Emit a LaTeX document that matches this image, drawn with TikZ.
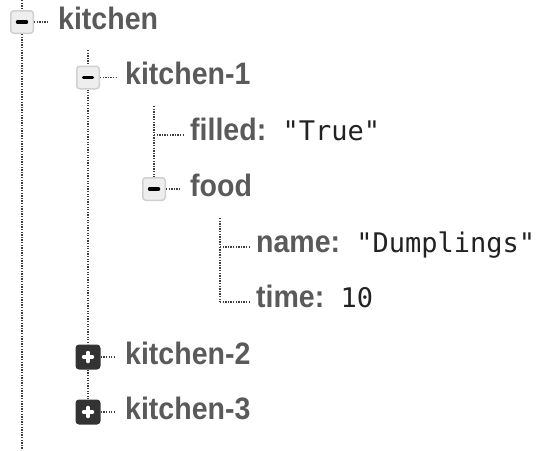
\documentclass[tikz,border=0pt]{standalone}
\usepackage{fontspec}
\setmainfont{Liberation Sans}[FakeStretch=0.92]
\setmonofont{DejaVu Sans Mono}
\usetikzlibrary{positioning,calc}

\definecolor{keygray}{HTML}{5A5A5A}
\definecolor{valdark}{HTML}{222222}
\definecolor{dotgray}{HTML}{404040}
\definecolor{boxfill}{HTML}{EEEEEE}
\definecolor{boxline}{HTML}{D0D0D0}
\definecolor{shutfill}{HTML}{333333}

\newcommand{\valtext}[1]{{\fontsize{27}{32}\selectfont\mdseries\ttfamily\color{valdark}#1}}

\begin{document}
\begin{tikzpicture}[
    x=1pt,y=-1pt,
    conn/.style={draw=dotgray,line width=1.9pt,dash pattern=on 1.3pt off 1.3pt},
    openbox/.style={rectangle,rounded corners=3pt,draw=boxline,line width=1.5pt,
                    fill=boxfill,minimum size=22.5pt,inner sep=0pt,
                    path picture={\draw[line width=3.5pt,line cap=round,black]
                      ([xshift=-4.5pt]path picture bounding box.center) --
                      ([xshift=4.5pt]path picture bounding box.center);}},
    shutbox/.style={rectangle,rounded corners=3.5pt,fill=shutfill,minimum size=25pt,
                    inner sep=0pt,
                    path picture={\draw[line width=3.5pt,line cap=round,white]
                      ([xshift=-4.5pt]path picture bounding box.center) --
                      ([xshift=4.5pt]path picture bounding box.center)
                      ([yshift=-4.5pt]path picture bounding box.center) --
                      ([yshift=4.5pt]path picture bounding box.center);}},
    keytext/.style={anchor=base west,inner sep=0pt,text=keygray,
                    font=\fontsize{31}{36}\selectfont\bfseries}
]
\useasboundingbox (0,0) rectangle (554,450);

% boxes
\node[openbox] (k0) at (22,22) {};
\node[openbox] (k1) at (88,77.5) {};
\node[openbox] (food) at (154,189) {};
\node[shutbox] (k2) at (88,357) {};
\node[shutbox] (k3) at (88,412) {};

% keys and values
\node[keytext] (t0) at (58,29) {kitchen};
\node[keytext] (t1) at (125,84.5) {kitchen-1};
\node[keytext] (tfill) at (190,140.5) {filled:\valtext{~"True"}};
\node[keytext] (tfood) at (190,196) {food};
\node[keytext] (tname) at (256,252) {name:\valtext{~"Dumplings"}};
\node[keytext] (ttime) at (256,307.5) {time:\valtext{~10}};
\node[keytext] (t2) at (125,364) {kitchen-2};
\node[keytext] (t3) at (125,419) {kitchen-3};

% free ends of the trunk lines
\coordinate (top0) at (22,0);
\coordinate (bot0) at (22,450);
\coordinate (top1) at (88,50);
\coordinate (top2) at (154,106);
\coordinate (top3) at (220,218);
\coordinate (jfill) at (154,135);
\coordinate (jname) at (220,247);
\coordinate (jtime) at (220,302);

% trunks
\draw[conn] (top0) -- (k0.north);
\draw[conn] (k0.south) -- (bot0);
\draw[conn] (top1) -- (k1.north);
\draw[conn] (k1.south) -- (k2.north);
\draw[conn] (k2.south) -- (k3.north);
\draw[conn] (top2) -- (food.north);
\draw[conn] (top3) -- (jtime);

% branches
\draw[conn,shorten >=9pt] (k0.east) -- (k0.east -| t0.west);
\draw[conn,shorten >=9pt] (k1.east) -- (k1.east -| t1.west);
\draw[conn,shorten >=9pt] (food.east) -- (food.east -| tfood.west);
\draw[conn,shorten >=9pt] (k2.east) -- (k2.east -| t2.west);
\draw[conn,shorten >=9pt] (k3.east) -- (k3.east -| t3.west);
\draw[conn,shorten >=7pt] (jfill) -- (jfill -| tfill.west);
\draw[conn,shorten >=7pt] (jname) -- (jname -| tname.west);
\draw[conn,shorten >=7pt] (jtime) -- (jtime -| ttime.west);
\end{tikzpicture}
\end{document}
